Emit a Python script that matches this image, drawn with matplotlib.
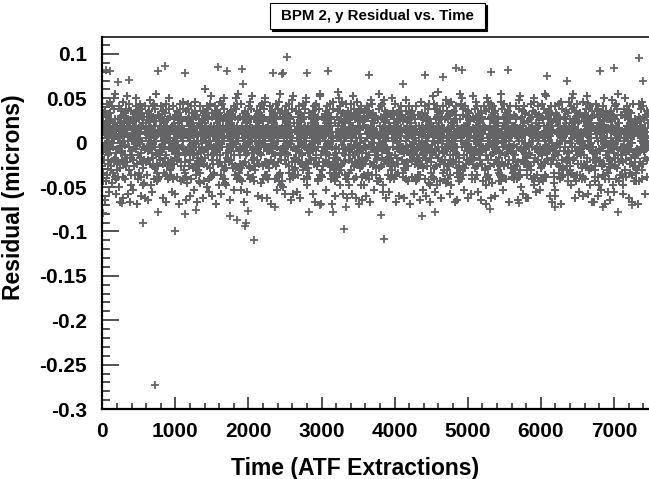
import numpy as np
import matplotlib.pyplot as plt
from matplotlib.patches import Rectangle
from matplotlib.ticker import MultipleLocator, FuncFormatter

plt.rcParams['font.family'] = ['Liberation Sans', 'DejaVu Sans']
plt.rcParams['font.weight'] = 'bold'

# residuals of the dense band, one character per extraction sample
# char index L in ALPHABET -> residual (L - 31) * 0.0024 microns
ALPHABET = "0123456789ABCDEFGHIJKLMNOPQRSTUVWXYZabcdefghijklmnopqrstuvwxyz"
band_code = (
    "KDfRaHTbNj" "kT4cZhDRaXnGbPeWiLYfQ8jSUdoMKgIVbmCZaeTHqXlNdsFgOY"
    "EQ7SIcLgMF" "gXAmSbVeJZ3hQkdNRcTiWo5FYaLfPUhEjbKlZcOrMgY7dWnITe"
    "YPe3GOkRBW" "ZbRhNe9WcKjTaGXfmSdYqLi2UbEVkPcgHaOnZXjdQF6hWlMTeB"
    "dJhTNCaSm5" "eMcXZGaThRj4bNWfYkSdLpUiVcB8gQaOmZhKnEXdbTlJWsYfPD"
    "QHLiEKZbPF" "QiaNTdmYcRhWUgZ5kbLeHSXfjOVa3GdPnbKYcZEgMlTWaqIhXF"
    "NGTcJRd8LE" "VmdLbgRZOc7XiaTWhkFYNeSUjcP2bQaZgnDKYhMfXTdlWEoaIS"
    "bSHMaPFkQ4" "RRfaCnYlgTbdKhWX6NemUaEjSSbPcJgQ9YdVkLoZhaGTi3WOcM"
    "OIWgDTeKCR" "mHaWQcgNTYf5ZbkLjDRXdeOuViSchAmKaPgTlZ8bYEnJWcrFdU"
    "jNS6hLGYPa" "TcHQiYbmZgW2aRkeNdXSLfVUjBoMcPhZG7aKYnTdgEXblWIqhC"
    "MEfJQBiTOc" "baXOhfMcTjYZ4SkNReWdgLiVJaUmP9cbGZhKlYqTdEXnaWFsgI"
    "HRbLEhPTJ9" "nSdbZDcTXgLhaW3jRkYMfePiUQc8aVbGZmKYhdoTJEXlgaWNrc"
    "QFaNSDgKOI" "WhIaTcZYRgbNk6dSfejXLmQaVUiCbPZ5hnKgYdEXTaloMWGqFT"
    "cMGZ5RLTfE" "cYbJRZaTmhgX2NWdkSLfeQjiVUaEcbPZKnhgYT9dXaMlWoGDFs"
    "jHQPaBNSkD" "ZcTgAbhYWRX7dNkSmfeLjQaViUcbPHZnKghYEdT4XaMlWpGFIr"
    "7eOTIJMbGR" "ObSkXe8aGhZTcWRmNdYj5fLiQVUbaPgKZnIchYETdXlWaMqoBF"
    "SEaQLJdNHT" "jUaQZcNhTdXWbgRk7eSYmLfiV3aOcbPnZKgYhDEdTaXlMWsGrF"
    "2PGbRFIhKM" "aXRbYhTZcWgNdke9mSQfjLViaUcbPZHnKgYhEdTX2aoMlWGFIJ"
    "OeDS6LaTQJ" "YOhFtdNkXqHSeaZBmbWIgKLoUdSj7QfYMiWePcGnXaRE5hZbTk"
    "gEHNRcBPiT" "eSInWc7YhMrPcZlKajEhUPgLaXF5oViTcRNdkQh2ZJfVbSmBXg"
    "F4KOMLdSGj" "BfTNlWg6FQcjXZmOaHhcPkUEbU3iLpYdSnfXGaSjKcV9eMhRaZ"
    "PJhGRNaDST" "DPgYsVJlTadXEmKhZnOaRg8BcWiUpLdTkYfWNb5jQhSaGZXbMe"
    "8QLcEKbIOM" "FXiIqbWTkMgEZdYKanPdG3aVOjeXSHfLbk6ZhUWgRcYmcTNaiR"
    "HfTFQ5RJLg" "SIbpEWkdTXfMhYKDmgZaQc2PcjUReNYFkhVTaiX7bOZRgaLdmW"
    "DaNSPEiKTG" "MdOW4iTGahZoLjVdY9QgJcPbSRjEaUmfN6XWhKcbTglYnCaeRQ"
    "BO3HMZeQRF" "UcFrdWJnEYa8ZlSgPaKmBhcTiVtOedXRDjLkbZ5gYTNhcQWaHm"
    "LQcIEgNTRS" "ChpIWkbXEgcTnYKa7GZiPcMoBjUVeLSXdNfkRa3WgZmaYiQHdT"
    "4PHJaFKDMO" "IgsFWbnXEcTqYlKiZGbd9PmUaJViLhdWeRNkS5ZYjTcMfgOXaa"
    "b7TEQRGhLN" "crOWaglXEJSodhYKmZGcVa8bQUiPefNYkRj4WahLgXTcDZbdSm"
    "JcSIPBkT2F" "TFqGWNolbTXEdYgKnh5ZPaCiUVbQmLXjefSc6kNbgRYZdTaIhW"
    "eMORHDaQKG" "sFDGoVlMaXd9TYghnKZPacEaUWijQefLSkcWN3XghmTaZRJbYd"
    "TFbNHRQdJE" "iUdbPHZmKghYEcT4XaMlWpGFIrZcSgAbhYWRX7dNkTmfeLjQaV"
    "5LSPGIaOMK" "5fLiQVUcaPgKZnIchYETdXkWaMqoBFObSjXe8aGhZTcWRmNdYi"
    "eDT9QRhLEJ" "PnZKhYgDEdSaXlMWsGrFjUbQZcNhTdXWagRk6eSYmLfiV3aOdb"
    "NbSFHCgTP6" "9mRQfjLViaUdbPZHnKhYgEdTX2aoNlWGFIJaXRcYhTZbWgNdke"
    "KMOIaRGjDQ" "doNKgIVbmBZaeTHqXlNcsFgOYkT5cZhDRbXnGaPeWiLYfQ8jSV"
    "GRaPSLEhJT" "Wo6FYaLfPUiEjbKlZdOrMgY7cWnITegXBmSbVeJZ3hRkdNQcTi"
    "N3QIFbKDMO" "nZXkdQF6hWlMSeBZaRhNe9WcKjTbGXfmTdYqLi2UbEVkPcgIaO"
    "HcT8RQEgLJ" "j4bNWfXkSdLpUiVcB8hQaOmZgKnEXdbTlJWsYePDeMcXZGaTiR"
    "NaSPGiBTF7" "MlSWaqIhXFQibNTdmYcRhWUgZ5kaLeHSXfjOVa3GdPnbKYcZDg"
    "MKOHDeRQIS" "cP2bQaZhnDKYgMfXTdlWEoaISVmcLbgRZOc7XiaSWhkFYNeTUj"
)

# isolated points
out_x = [50, 105, 219, 369, 767, 857, 1131, 1587, 1702, 1907, 1929, 2340, 2454,
         2476, 2531, 2796, 3092, 3653, 4118, 4415, 4665, 4835, 4917, 5313, 5554,
         6088, 6361, 6808, 7004, 7346, 7401,
         14, 265, 553, 722, 766, 995, 1131, 1282, 1747, 1838, 1952, 1960, 1997,
         2075, 2362, 2832, 2978, 3152, 3306, 3334, 3813, 3858, 4369, 4551, 5300,
         5700, 6200, 6850, 7050, 7250]
out_y = [0.082, 0.081, 0.068, 0.071, 0.081, 0.086, 0.079, 0.085, 0.081, 0.083,
         0.066, 0.079, 0.077, 0.078, 0.096, 0.078, 0.081, 0.076, 0.066, 0.076,
         0.074, 0.084, 0.082, 0.080, 0.082, 0.075, 0.069, 0.081, 0.084, 0.095,
         0.069,
         -0.079, -0.068, -0.090, -0.273, -0.078, -0.100, -0.080, -0.076, -0.083,
         -0.087, -0.094, -0.090, -0.077, -0.110, -0.073, -0.078, -0.070, -0.078,
         -0.097, -0.072, -0.082, -0.109, -0.083, -0.078, -0.075, -0.068, -0.073,
         -0.072, -0.078, -0.070]

band_y = np.array([(ALPHABET.index(c) - 31) * 0.0024 for c in band_code])
band_x = np.linspace(0, 7470, len(band_y))

fig = plt.figure(figsize=(6.49, 4.79), dpi=100)
ax = fig.add_axes([0.1576, 0.1461, 0.8424, 0.7766])

col = '#646467'
ax.plot(band_x, band_y, '+', ms=6, mew=1.45, color=col, linestyle='none')
ax.plot(out_x, out_y, '+', ms=6, mew=1.3, color=col, linestyle='none')

ax.set_xlim(0, 7480)
ax.set_ylim(-0.3, 0.119)

ax.xaxis.set_major_locator(MultipleLocator(1000))
ax.xaxis.set_minor_locator(MultipleLocator(200))
ax.yaxis.set_major_locator(MultipleLocator(0.05))
ax.yaxis.set_minor_locator(MultipleLocator(0.01))
ax.yaxis.set_major_formatter(FuncFormatter(lambda v, p: '%g' % round(v, 3)))

ax.tick_params(axis='both', which='both', direction='in', top=False, right=False,
               width=1.1, color='#222222', labelsize=15)
ax.tick_params(axis='y', which='major', length=12, pad=11)
ax.tick_params(axis='y', which='minor', length=6)
ax.tick_params(axis='x', which='major', length=8.5, pad=9.5)
ax.tick_params(axis='x', which='minor', length=4.3)

for s in ['left', 'bottom']:
    ax.spines[s].set_linewidth(1.6)
ax.spines['top'].set_linewidth(1.1)
ax.spines['right'].set_visible(False)

ax.set_xlabel('Time (ATF Extractions)', fontsize=16.5, fontweight='bold')
ax.set_ylabel('Residual (microns)', fontsize=16.5, fontweight='bold')
ax.xaxis.set_label_coords(0.4625, -0.129)
ax.yaxis.set_label_coords(-0.141, 0.570)

# title box with a drop shadow
fig.patches.append(Rectangle((0.4191, 0.9353), 0.3313, 0.0543, transform=fig.transFigure,
                             facecolor='black', edgecolor='black', lw=0.8))
fig.patches.append(Rectangle((0.4160, 0.9395), 0.3313, 0.0543, transform=fig.transFigure,
                             facecolor='white', edgecolor='black', lw=0.8))
fig.text(0.5817, 0.9666, 'BPM 2, y Residual vs. Time', ha='center', va='center',
         fontsize=10.8, fontweight='bold')

fig.savefig('out.png', dpi=100)
